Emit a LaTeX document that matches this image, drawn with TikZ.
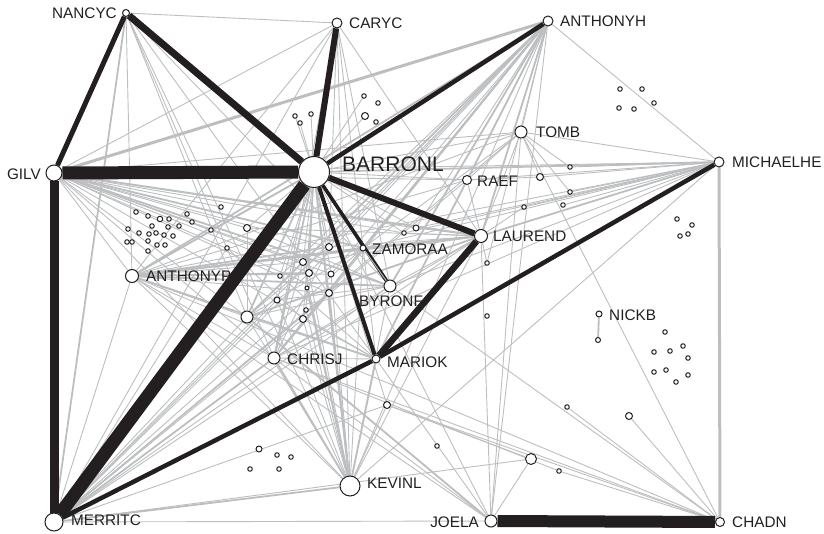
\documentclass[tikz,border=0pt]{standalone}
\usepackage{fontspec}
\setmainfont{Liberation Sans}
\usetikzlibrary{backgrounds}
\begin{document}
\begin{tikzpicture}[x=1pt,y=-1pt]
\definecolor{ink}{HTML}{231F20}
\definecolor{tie}{HTML}{BCBEC0}
\tikzset{
  actor/.style={circle, draw=ink, fill=white, line width=1pt, inner sep=0pt, minimum size=#1},
  actor/.default=4.5pt,
  tag/.style={font=\fontsize{15.3}{18}\selectfont, text=ink, inner sep=0pt},
  e1/.style={draw=tie, line width=0.9pt},
  e2/.style={draw=tie, line width=1.8pt},
  e3/.style={draw=tie, line width=3pt},
  strong/.style={draw=ink, line width=#1},
}
\useasboundingbox (0,0) rectangle (824,534);

% named actors
\node[actor=7pt]  (nan) at (126,13) {};
\node[actor=10pt] (car) at (337,23) {};
\node[actor=10pt] (anh) at (548,21) {};
\node[actor=31pt] (bar) at (314,172) {};
\node[actor=16pt] (gil) at (54,173) {};
\node[actor=12pt] (tom) at (521,132) {};
\node[actor=9pt]  (rae) at (467,180) {};
\node[actor=10pt] (mic) at (719,162) {};
\node[actor=13pt] (lau) at (481,236) {};
\node[actor=6pt]  (zam) at (363,248) {};
\node[actor=13pt] (anp) at (132,276) {};
\node[actor=12pt] (byr) at (390,286) {};
\node[actor=6pt]  (nic) at (599,314) {};
\node[actor=5pt]  (nic2) at (598,340) {};
\node[actor=12pt] (chr) at (274,358) {};
\node[actor=8pt]  (mar) at (376,359) {};
\node[actor=20pt] (kev) at (350,486) {};
\node[actor=18pt] (mer) at (54,522) {};
\node[actor=12pt] (joe) at (491,521) {};
\node[actor=9pt]  (cha) at (720,522) {};

% unnamed actors with ties
\node[actor=12pt] (m1) at (247,317) {};
\node[actor=11pt] (m2) at (531,459) {};
\node[actor=7pt]  (m3) at (387,405) {};
\node[actor=7pt]  (m4) at (629,416) {};
\node[actor]      (m5) at (567,407) {};
\node[actor]      (m6) at (559,471) {};
\node[actor]      (m7) at (570,167) {};
\node[actor]      (m8) at (570,192) {};
\node[actor]      (m9) at (563,205) {};
\node[actor]      (m10) at (524,207) {};
\node[actor=7pt]  (m11) at (540,177) {};
\node[actor]      (m12) at (487,263) {};
\node[actor]      (m13) at (404,233) {};
\node[actor=6pt]  (m14) at (416,228) {};
\node[actor=7pt]  (m15) at (247,228) {};
\node[actor]      (m16) at (211,230) {};
\node[actor]      (m17) at (227,248) {};
\node[actor]      (m18) at (221,207) {};
\node[actor]      (m19) at (280,276) {};
\node[actor=6pt]  (m20) at (277,300) {};
\node[actor=7pt]  (m21) at (303,262) {};
\node[actor=7pt]  (m22) at (309,273) {};
\node[actor=6pt]  (m23) at (331,274) {};
\node[actor=7pt]  (m24) at (329,247) {};
\node[actor=4pt]  (m25) at (307,288) {};
\node[actor=7pt]  (m26) at (329,293) {};
\node[actor]      (m27) at (306,310) {};
\node[actor=7pt]  (m28) at (303,319) {};
\node[actor]      (m29) at (487,316) {};
\node[actor]      (m30) at (437,446) {};
\node[actor]      (t1) at (295,116) {};
\node[actor]      (t2) at (300,123) {};
\node[actor]      (t3) at (311,114) {};
\node[actor]      (t4) at (364,96) {};
\node[actor=7pt]  (t5) at (365,116) {};
\node[actor]      (t6) at (378,103) {};
\node[actor]      (t7) at (376,122) {};

% isolated actors
\foreach \x/\y [count=\i] in {136/212,148/216,169/219,152/226,168/227,187/214,192/222,179/226,
  128/229,139/233,149/234,156/233,164/235,173/236,127/242,132/242,148/241,157/245,165/245,148/251}
  \node[actor] (ga\i) at (\x,\y) {};
\node[actor=5.5pt] (ga0) at (160,219) {};
\foreach \x/\y [count=\i] in {620/89,642/89,654/103,619/108,634/109}
  \node[actor] (gb\i) at (\x,\y) {};
\foreach \x/\y [count=\i] in {677/219,692/225,680/236,688/234}
  \node[actor] (gc\i) at (\x,\y) {};
\foreach \x/\y [count=\i] in {665/332,683/346,654/352,670/351,688/358,654/372,666/370,688/375,676/382}
  \node[actor] (gd\i) at (\x,\y) {};
\node[actor=6pt] (ge0) at (259,449) {};
\foreach \x/\y [count=\i] in {277/455,291/457,250/469,279/469}
  \node[actor] (ge\i) at (\x,\y) {};

% labels
\node[tag, anchor=east] (nan-t) at (117,13) {NANCYC};
\node[tag, anchor=west] (car-t) at (349,23) {CARYC};
\node[tag, anchor=west] (anh-t) at (560,21) {ANTHONYH};
\node[tag, font=\fontsize{21}{24}\selectfont, anchor=west] (bar-t) at (342,164) {BARRONL};
\node[tag, anchor=east] (gil-t) at (41,174) {GILV};
\node[tag, anchor=west] (tom-t) at (536,132) {TOMB};
\node[tag, anchor=west] (rae-t) at (477,181) {RAEF};
\node[tag, anchor=west] (mic-t) at (732,162) {MICHAELHE};
\node[tag, anchor=west] (lau-t) at (493,236) {LAUREND};
\node[tag, anchor=west] (zam-t) at (372,249) {ZAMORAA};
\node[tag, anchor=west] (anp-t) at (146,276) {ANTHONYP};
\node[tag] (byr-t) at (391,301) {BYRONF};
\node[tag, anchor=west] (nic-t) at (609,315) {NICKB};
\node[tag, anchor=west] (chr-t) at (287,359) {CHRISJ};
\node[tag, anchor=west] (mar-t) at (387,362) {MARIOK};
\node[tag, anchor=west] (kev-t) at (367,483) {KEVINL};
\node[tag, anchor=west] (mer-t) at (71,520) {MERRITC};
\node[tag, anchor=east] (joe-t) at (479,522) {JOELA};
\node[tag, anchor=west] (cha-t) at (732,522) {CHADN};

\begin{pgfonlayer}{background}
% weak ties
\foreach \a/\b in {gil/car,gil/tom,gil/mic,gil/rae,gil/mar,gil/anp,gil/chr,gil/m1,gil/kev,gil/m13,gil/m14,
  gil/m21,gil/m15,gil/m18,gil/m19,gil/m16,gil/m24,gil/m22,gil/m23,gil/m26,
  mer/anp,mer/m1,mer/joe,mer/lau,mer/byr,mer/zam,mer/rae,mer/tom,mer/m22,mer/m28,mer/m26,mer/m20,
  mer/anh,mer/car,mer/m3,mer/m2,mer/m17,
  bar/tom,bar/rae,bar/m15,bar/m24,bar/m21,bar/m22,bar/m23,bar/m25,bar/m26,bar/m27,bar/m28,bar/m19,
  bar/m20,bar/t1,bar/t2,bar/t3,bar/t4,bar/t5,bar/joe,bar/m3,bar/m13,bar/m14,bar/m16,
  anh/mic,anh/tom,anh/rae,anh/kev,anh/joe,anh/m24,anh/m23,anh/m22,anh/m14,anh/m12,anh/m26,anh/m19,anh/m21,
  mic/tom,mic/rae,mic/zam,mic/anp,mic/m7,mic/m8,mic/m9,mic/m10,mic/m14,mic/m13,mic/kev,mic/chr,
  mic/byr,mic/m11,
  tom/rae,tom/lau,tom/m11,tom/m7,tom/m8,tom/cha,tom/joe,tom/zam,
  lau/rae,lau/byr,lau/m14,lau/m13,lau/m12,lau/kev,lau/joe,lau/chr,lau/m24,lau/m21,lau/m10,
  chr/joe,chr/cha,chr/mar,chr/anp,chr/m6,chr/m21,chr/m24,chr/byr,chr/zam,
  kev/byr,kev/zam,kev/m27,kev/m28,kev/m20,kev/m1,kev/anp,kev/m3,kev/m23,kev/m22,kev/m21,
  joe/mar,joe/m2,joe/anp,
  cha/m4,cha/m5,cha/m6,cha/m3,cha/byr,cha/anp,
  nan/car,nan/anp,nan/chr,nan/kev,nan/mar,nan/byr,nan/m1,
  car/lau,car/byr,car/mar,car/kev,car/chr,car/anp,car/m24,
  anp/rae,anp/tom,anp/m1,anp/m21,anp/m23,anp/m26,
  m1/m24,m1/byr,m1/zam,m1/mar,m15/byr,m15/lau,m19/mar,m20/byr,m28/mar,
  m3/m2,m21/m22,rae/m11,m15/m1,m17/m28}
  \draw[e1] (\a) -- (\b);
% medium ties
\foreach \a/\b in {gil/lau,gil/zam,gil/byr,mer/chr,mer/kev,mer/nan,bar/mic,bar/zam,bar/kev,bar/chr,
  bar/anp,bar/m1,anh/lau,anh/zam,anh/byr,anh/mar,anh/chr,anh/anp,anh/m1,lau/zam,lau/anp,
  kev/mar,kev/m26,kev/m25,kev/chr,joe/m1,nic/nic2,anp/zam,anp/byr,anp/mar,mic/lau,
  anp/m22,anp/m24,m1/lau,chr/m26}
  \draw[e2] (\a) -- (\b);
% heavy grey ties
\draw[e3] (gil) -- (anh);
\draw[e3] (mic) -- (cha);
% strong ties
\draw[strong=13pt] (gil) -- (bar);
\draw[strong=13pt] (bar) -- (mer);
\draw[strong=9pt]  (gil) -- (mer);
\draw[strong=5pt]  (nan) -- (gil);
\draw[strong=7pt]  (nan) -- (bar);
\draw[strong=6pt]  (car) -- (bar);
\draw[strong=4.5pt] (anh) -- (bar);
\draw[strong=6pt]  (bar) -- (lau);
\draw[strong=3.5pt] (bar) -- (byr);
\draw[strong=4pt]  (bar) -- (mar);
\draw[strong=6.5pt] (lau) -- (mar);
\draw[strong=4.5pt] (mer) -- (mar);
\draw[strong=4.5pt] (mar) -- (mic);
\draw[strong=12pt] (joe) -- (cha);
\draw[e1] (zam) -- (byr);
\end{pgfonlayer}
\end{tikzpicture}
\end{document}
